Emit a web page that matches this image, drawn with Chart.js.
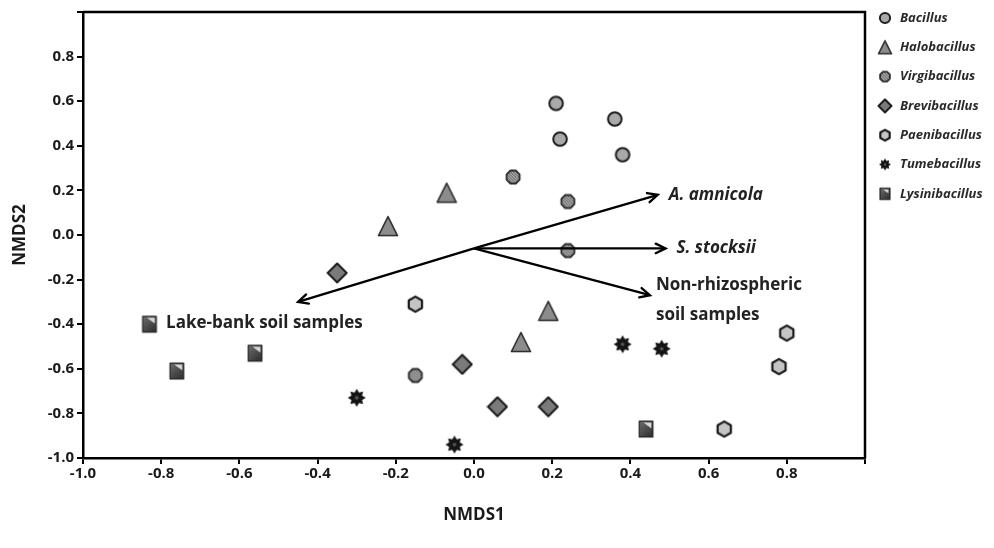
<!DOCTYPE html>
<html>
<head>
<meta charset="utf-8">
<script src="https://cdn.jsdelivr.net/npm/chart.js@4.4.1/dist/chart.umd.min.js"></script>
<style>
    html, body { margin: 0; padding: 0; background: #fff; }
    #wrap { width: 994px; height: 548px; }
</style>
</head>
<body>
<div id="wrap"><canvas id="nmdsChart"></canvas></div>
<script>
// NMDS scores per genus, [NMDS1, NMDS2]
const genera = ['Bacillus', 'Halobacillus', 'Virgibacillus', 'Brevibacillus', 'Paenibacillus', 'Tumebacillus', 'Lysinibacillus'];
const bacillusPts = [[0.21, 0.59], [0.22, 0.43], [0.36, 0.52], [0.38, 0.36]];
const halobacillusPts = [[-0.07, 0.19], [-0.22, 0.04], [0.19, -0.34], [0.12, -0.48]];
const virgibacillusPts = [[0.10, 0.26], [0.24, 0.15], [0.24, -0.07], [-0.15, -0.63]];
const brevibacillusPts = [[-0.35, -0.17], [-0.03, -0.58], [0.06, -0.77], [0.19, -0.77]];
const paenibacillusPts = [[-0.15, -0.31], [0.80, -0.44], [0.78, -0.59], [0.64, -0.87]];
const tumebacillusPts = [[-0.30, -0.73], [0.38, -0.49], [0.48, -0.51], [-0.05, -0.94]];
const lysinibacillusPts = [[-0.83, -0.40], [-0.76, -0.61], [-0.56, -0.53], [0.44, -0.87]];

// environmental vectors
const vectorOrigin = [0.0, -0.06];
const vectorNames = ['A. amnicola', 'S. stocksii', 'Non-rhizospheric|soil samples', 'Lake-bank soil samples'];
const vectorTips = [[0.47, 0.18], [0.49, -0.06], [0.45, -0.27], [-0.45, -0.30]];

const xTicks = [-1.0, 1.0, 0.2];  // min, max, step
const yTicks = [-1.0, 1.0, 0.2];

// ==========================================
// marker shapes drawn on small canvases
// ==========================================
function polyPath(g, cx, cy, rad, n, start) {
    g.beginPath();
    for (let i = 0; i < n; i++) {
        const a = start + i * 2 * Math.PI / n;
        const px = cx + rad * Math.cos(a), py = cy + rad * Math.sin(a);
        i === 0 ? g.moveTo(px, py) : g.lineTo(px, py);
    }
    g.closePath();
}

function makeMarker(kind, size) {
    const c = document.createElement('canvas');
    c.width = size; c.height = size;
    const g = c.getContext('2d');
    const m = size / 2;
    const r = size / 2 - 2;
    g.lineJoin = 'round';

    if (kind === 'circle') {
        g.beginPath(); g.arc(m, m, r * 0.85, 0, Math.PI * 2);
        g.fillStyle = '#a9a9a9'; g.fill();
        g.lineWidth = 2; g.strokeStyle = '#1e1e1e'; g.stroke();
    } else if (kind === 'triangle') {
        g.beginPath();
        g.moveTo(m, 1.5); g.lineTo(size - 1.5, size - 1.5); g.lineTo(1.5, size - 1.5); g.closePath();
        g.fillStyle = '#8c8c8c'; g.fill();
        g.lineWidth = 1.6; g.strokeStyle = '#2a2a2a'; g.stroke();
    } else if (kind === 'octagon') {
        const rr = r * 0.88;
        polyPath(g, m, m, rr, 8, Math.PI / 8);
        g.fillStyle = '#7c7c7c'; g.fill();
        g.save(); g.clip();
        g.strokeStyle = '#b4b4b4'; g.lineWidth = 1;
        for (let k = -size; k < size * 2; k += 3) {
            g.beginPath(); g.moveTo(k, 0); g.lineTo(k + size, size); g.stroke();
        }
        g.restore();
        polyPath(g, m, m, rr, 8, Math.PI / 8);
        g.lineWidth = 1.8; g.strokeStyle = '#2a2a2a'; g.stroke();
    } else if (kind === 'diamond') {
        g.beginPath();
        g.moveTo(m, 1.5); g.lineTo(size - 1.5, m); g.lineTo(m, size - 1.5); g.lineTo(1.5, m); g.closePath();
        g.fillStyle = '#7a7a7a'; g.fill();
        g.lineWidth = 2; g.strokeStyle = '#1a1a1a'; g.stroke();
    } else if (kind === 'hexagon') {
        polyPath(g, m, m, r * 0.9, 6, -Math.PI / 2);
        g.fillStyle = '#c4c4c4'; g.fill();
        g.lineWidth = 2.2; g.strokeStyle = '#1a1a1a'; g.stroke();
    } else if (kind === 'star') {
        const ro = r, ri = r * 0.64;
        g.beginPath();
        for (let i = 0; i < 16; i++) {
            const a = -Math.PI / 2 + i * Math.PI / 8;
            const rad = i % 2 === 0 ? ro : ri;
            const px = m + rad * Math.cos(a), py = m + rad * Math.sin(a);
            i === 0 ? g.moveTo(px, py) : g.lineTo(px, py);
        }
        g.closePath();
        g.fillStyle = '#141414'; g.fill();
        g.beginPath(); g.arc(m, m, r * 0.2, 0, Math.PI * 2);
        g.fillStyle = '#5a5a5a'; g.fill();
    } else if (kind === 'square') {
        const w = size * 0.62, h = size * 0.72;
        const x0 = m - w / 2, y0 = m - h / 2;
        const grad = g.createLinearGradient(x0, y0, x0 + w, y0 + h);
        grad.addColorStop(0, '#6e6e6e');
        grad.addColorStop(1, '#2c2c2c');
        g.fillStyle = grad; g.fillRect(x0, y0, w, h);
        g.fillStyle = '#d8d8d8';
        g.beginPath(); g.moveTo(x0 + w * 0.3, y0 + 1.5); g.lineTo(x0 + w - 1.5, y0 + 1.5); g.lineTo(x0 + w - 1.5, y0 + h * 0.45); g.closePath(); g.fill();
        g.lineWidth = 1.2; g.strokeStyle = '#222'; g.strokeRect(x0, y0, w, h);
    }
    return c;
}

const markerKinds = ['circle', 'triangle', 'octagon', 'diamond', 'hexagon', 'star', 'square'];
const markerSizes = [20, 22, 20, 22, 21, 22, 22];
const pointSets = [bacillusPts, halobacillusPts, virgibacillusPts, brevibacillusPts, paenibacillusPts, tumebacillusPts, lysinibacillusPts];

const datasets = genera.map((name, i) => ({
    label: name,
    data: pointSets[i].map(p => ({ x: p[0], y: p[1] })),
    pointStyle: makeMarker(markerKinds[i], markerSizes[i]),
    legendIcon: makeMarker(markerKinds[i], 16),
    order: 1
}));

vectorTips.forEach((tip, i) => {
    datasets.push({
        type: 'line',
        label: vectorNames[i],
        data: [{ x: vectorOrigin[0], y: vectorOrigin[1] }, { x: tip[0], y: tip[1] }],
        borderColor: '#000',
        borderWidth: 2.3,
        pointRadius: 0,
        showLine: true,
        isVector: true,
        order: 0
    });
});

// ==========================================
// plugin: frame, arrowheads, vector labels, legend
// ==========================================
const decorPlugin = {
    id: 'decor',
    afterDraw(chart) {
        const ctx = chart.ctx;
        const area = chart.chartArea;
        const xs = chart.scales.x, ys = chart.scales.y;

        // top and right frame lines
        ctx.save();
        ctx.strokeStyle = '#000';
        ctx.lineWidth = 2.5;
        ctx.beginPath();
        ctx.moveTo(area.left, area.top); ctx.lineTo(area.right, area.top); ctx.lineTo(area.right, area.bottom);
        ctx.stroke();
        ctx.restore();

        // arrowheads + labels
        const ox = xs.getPixelForValue(vectorOrigin[0]);
        const oy = ys.getPixelForValue(vectorOrigin[1]);
        ctx.save();
        ctx.strokeStyle = '#000';
        ctx.lineWidth = 2.3;
        ctx.lineCap = 'round';
        vectorTips.forEach((tip, i) => {
            const tx = xs.getPixelForValue(tip[0]);
            const ty = ys.getPixelForValue(tip[1]);
            const ang = Math.atan2(ty - oy, tx - ox);
            const L = 11, spread = 0.45;
            ctx.beginPath();
            ctx.moveTo(tx - L * Math.cos(ang - spread), ty - L * Math.sin(ang - spread));
            ctx.lineTo(tx, ty);
            ctx.lineTo(tx - L * Math.cos(ang + spread), ty - L * Math.sin(ang + spread));
            ctx.stroke();

            ctx.fillStyle = '#222';
            ctx.textBaseline = 'middle';
            ctx.textAlign = 'left';
            const lines = vectorNames[i].split('|');
            if (i < 2) {
                ctx.font = 'italic bold 17px "Open Sans"';
                ctx.fillText(lines[0], tx + 11, ty);
            } else if (i === 2) {
                ctx.font = 'bold 17px "Open Sans"';
                ctx.fillText(lines[0], tx + 6, ty - 10);
                ctx.fillText(lines[1], tx + 6, ty + 20);
            } else {
                ctx.font = 'bold 17px "Open Sans"';
                ctx.fillText(lines[0], tx - 132, ty + 21);
            }
        });
        ctx.restore();

        // legend on the right
        ctx.save();
        ctx.textBaseline = 'middle';
        ctx.textAlign = 'left';
        ctx.font = 'italic bold 13px "Open Sans"';
        ctx.fillStyle = '#2a2a2a';
        chart.data.datasets.filter(d => !d.isVector).forEach((d, i) => {
            const y = 18 + i * 29.3;
            const icon = d.legendIcon;
            ctx.drawImage(icon, area.right + 20 - icon.width / 2, y - icon.height / 2);
            ctx.fillText(d.label, area.right + 35, y);
        });
        ctx.restore();
    }
};

function tickLabel(v, max) {
    if (Math.abs(v - max) < 1e-9) return '';
    if (Math.abs(v) < 1e-9) return '0.0';
    return v.toFixed(1);
}

document.addEventListener('DOMContentLoaded', function () {
    const ctx = document.getElementById('nmdsChart').getContext('2d');

    new Chart(ctx, {
        type: 'scatter',
        data: { datasets: datasets },
        options: {
            responsive: true,
            maintainAspectRatio: false,
            animation: false,
            layout: { padding: { top: 9, right: 129, left: 0, bottom: 0 } },
            plugins: {
                legend: { display: false },
                tooltip: { enabled: false }
            },
            scales: {
                x: {
                    type: 'linear',
                    min: xTicks[0], max: xTicks[1],
                    ticks: {
                        stepSize: xTicks[2],
                        color: '#1a1a1a',
                        font: { family: 'Open Sans', size: 15, weight: 'bold' },
                        padding: 1,
                        maxRotation: 0,
                        callback: v => tickLabel(v, xTicks[1])
                    },
                    grid: { drawOnChartArea: false, drawTicks: true, tickLength: 6, color: '#000', lineWidth: 2 },
                    border: { display: true, color: '#000', width: 2.5 },
                    title: {
                        display: true, text: 'NMDS1', color: '#1a1a1a',
                        font: { family: 'Open Sans', size: 17, weight: 'bold' },
                        padding: { top: 0, bottom: 23 }
                    },
                    afterFit: s => { s.height = 90; }
                },
                y: {
                    type: 'linear',
                    min: yTicks[0], max: yTicks[1],
                    ticks: {
                        stepSize: yTicks[2],
                        color: '#1a1a1a',
                        font: { family: 'Open Sans', size: 15, weight: 'bold' },
                        padding: 3,
                        callback: v => tickLabel(v, yTicks[1])
                    },
                    grid: { drawOnChartArea: false, drawTicks: true, tickLength: 6, color: '#000', lineWidth: 2 },
                    border: { display: true, color: '#000', width: 2.5 },
                    title: {
                        display: true, text: 'NMDS2', color: '#1a1a1a',
                        font: { family: 'Open Sans', size: 17, weight: 'bold' },
                        padding: { top: 10, bottom: 0 }
                    },
                    afterFit: s => { s.width = 83; }
                }
            }
        },
        plugins: [decorPlugin]
    });
});
</script>
</body>
</html>
